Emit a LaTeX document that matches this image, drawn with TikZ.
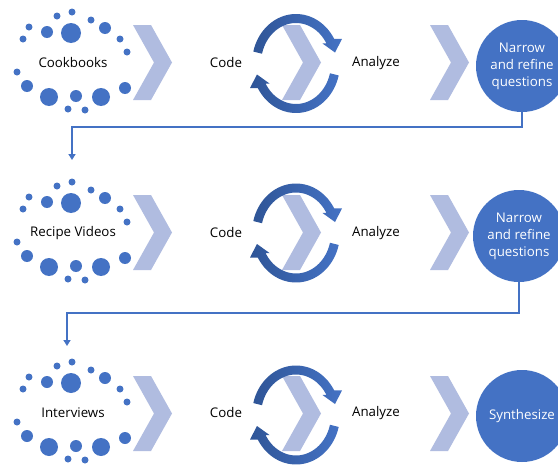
\documentclass[tikz,border=0pt]{standalone}
\usepackage{fontspec}
\setmainfont{Open Sans}
\usetikzlibrary{arrows.meta}

\definecolor{accent}{HTML}{4472C4}
\definecolor{accentdark}{HTML}{2F5597}
\definecolor{chevfill}{HTML}{B0BCE0}

\tikzset{
  txt/.style={font=\fontsize{13.3}{17}\selectfont, text=black, inner sep=0pt},
  goal/.style={circle, fill=accent, minimum size=92pt, inner sep=0pt,
    text=white, align=center, font=\fontsize{13.3}{17}\selectfont},
  link/.style={draw=accent, line width=1.8pt,
    -{Triangle[length=6pt,width=7pt]}},
  % scattered dots around a source label
  dotring/.pic={
    \foreach \dx/\dy/\r in {
      -1/-51/3.5, -16/-47/3.5, 18/-43/3.5, -44/-36/3.5, -26/-31/6,
      -2/-30/10, 32/-35/6, -50/-24/3.5, 47/-24/3.5, 54/-11/3.5,
      -56/9/3.5, -46/23/6, -24/34/9, 3/33/6, 28/34/9, 52/25/6,
      -5/46/3.5, 12/47/3.5}
      \fill[accent] (\dx,\dy) circle[radius=\r pt];
  },
  % light chevron, anchored at its left edge, vertically centred
  chevron/.pic={
    \fill[chevfill] (0,-37.5) -- (18,-37.5) -- (39,0) -- (18,37.5)
      -- (0,37.5) -- (21,0) -- cycle;
  },
  % pair of curved arrows forming a loop
  loop/.pic={
    \begin{scope}[y=1pt]
      \foreach \rot in {0,180}{
        \shade[rotate=\rot, left color=accentdark, right color=accent]
          plot[domain=166:30, samples=40] ({44*cos(\x)},{49.5*sin(\x)})
          -- (46,24.5) -- (39,11) -- (26.5,20)
          -- plot[domain=30:166, samples=40] ({35*cos(\x)},{40.5*sin(\x)})
          -- cycle;
      }
    \end{scope}
  }
}

\begin{document}
\begin{tikzpicture}[x=1pt, y=-1pt]
  \useasboundingbox (0,0) rectangle (558,466);
  \fill[white] (0,0) rectangle (558,466);
  \clip (0,0) rectangle (558,466);

  % ---- row 1 ----
  \pic at (73,63) {dotring};
  \node[txt] (src1) at (73,63) {Cookbooks};
  \pic at (133,62.5) {chevron};
  \pic at (282,62.5) {chevron};
  \pic at (296,63.5) {loop};
  \node[txt] (code1) at (226,63) {Code};
  \node[txt] (an1) at (376,63) {Analyze};
  \pic at (430,62.5) {chevron};
  \node[goal] (q1) at (522,66) {Narrow\\and refine\\questions};

  % ---- row 2 ----
  \pic at (73,233) {dotring};
  \node[txt] (src2) at (73,233) {Recipe Videos};
  \pic at (133,232.5) {chevron};
  \pic at (282,232.5) {chevron};
  \pic at (296,233) {loop};
  \node[txt] (code2) at (226,233) {Code};
  \node[txt] (an2) at (376,233) {Analyze};
  \pic at (430,232.5) {chevron};
  \node[goal] (q2) at (519,236) {Narrow\\and refine\\questions};

  % ---- row 3 ----
  \pic at (73,413) {dotring};
  \node[txt] (src3) at (73,413) {Interviews};
  \pic at (133,413.5) {chevron};
  \pic at (282,413.5) {chevron};
  \pic at (296,415) {loop};
  \node[txt] (code3) at (226,413) {Code};
  \node[txt] (an3) at (376,413) {Analyze};
  \pic at (430,413.5) {chevron};
  \node[goal] (syn) at (522,416) {Synthesize};

  % ---- connectors between rows ----
  \coordinate (bend1) at (72,127);
  \coordinate (in2) at (72,160);
  \draw[link] (q1.south) |- (bend1) -- (in2);

  \coordinate (bend2) at (67,313);
  \coordinate (in3) at (67,346);
  \draw[link] (q2.south) |- (bend2) -- (in3);
\end{tikzpicture}
\end{document}
